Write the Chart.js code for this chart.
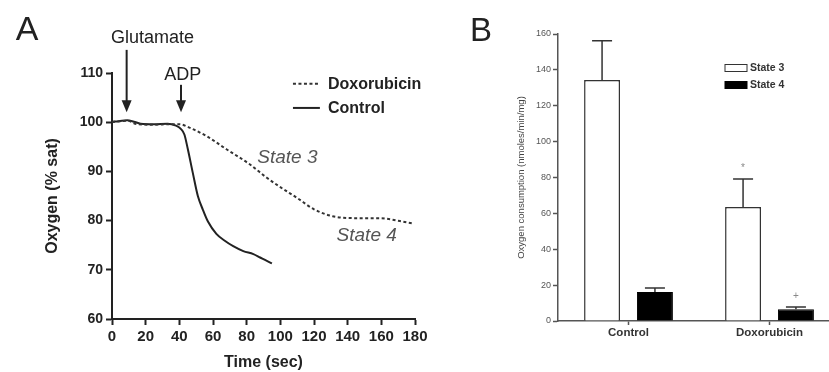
<!DOCTYPE html>
<html>
<head>
<meta charset="utf-8">
<script src="https://cdn.jsdelivr.net/npm/chart.js@4.4.0/dist/chart.umd.min.js"></script>
<style>
  html, body { margin: 0; padding: 0; background: #fff; overflow: hidden; }
  #wrap { position: relative; width: 829px; height: 372px; overflow: hidden; }
  #chartA { position: absolute; left: 0; top: 0; }
  #chartB { position: absolute; left: 460px; top: 0; }
</style>
</head>
<body>
<div id="wrap">
  <canvas id="chartA" width="460" height="372"></canvas>
  <canvas id="chartB" width="400" height="372"></canvas>
</div>
<script>
"use strict";

// Panel A: oxygen trace (% sat) against time (sec)
const controlTime = [0, 4, 9, 13, 17, 25, 33, 38, 41, 43, 45, 48, 51, 54, 57, 62, 67, 72, 78, 84, 88, 92, 95];
const controlO2 = [100.1, 100.2, 100.4, 100.1, 99.7, 99.6, 99.7, 99.3, 98.6, 97.5, 94.6, 89.7, 85, 82.2, 79.8, 77.3, 75.9, 74.8, 73.8, 73.2, 72.5, 71.8, 71.3];
const doxTime = [0, 9, 15, 25, 35, 40, 46, 56, 68, 82, 92, 100, 110, 120, 131, 145, 159, 171, 179];
const doxO2 = [100, 100.3, 99.6, 99.5, 99.6, 99.6, 98.9, 97.2, 94.5, 91.4, 88.7, 86.8, 84.6, 82.3, 80.9, 80.5, 80.5, 79.9, 79.4];

// Panel B: oxygen consumption (nmoles/min/mg)
const groups = ["Control", "Doxorubicin"];
const state3 = [134.3, 63.6];
const state3Err = [22, 15.5];
const state4 = [16.2, 6.5];
const state4Err = [2.2, 1.3];
const state3Marks = ["", "*"];
const state4Marks = ["", "+"];

const FONT = "'Liberation Sans', Arial, sans-serif";
Chart.defaults.font.family = FONT;

function toPoints(xs, ys) {
    return xs.map((t, i) => ({ x: t, y: ys[i] }));
}

function drawArrow(ctx, px, yFrom, yTo) {
    ctx.beginPath();
    ctx.moveTo(px, yFrom);
    ctx.lineTo(px, yTo - 10);
    ctx.stroke();
    ctx.beginPath();
    ctx.moveTo(px - 5, yTo - 12);
    ctx.lineTo(px + 5, yTo - 12);
    ctx.lineTo(px, yTo);
    ctx.closePath();
    ctx.fill();
}

// labels, arrows and legend for panel A
const notesA = {
    id: "notesA",
    afterDraw(chart) {
        const { ctx, scales: { x, y } } = chart;
        ctx.save();
        ctx.fillStyle = "#222";
        ctx.strokeStyle = "#222";
        ctx.lineWidth = 2;
        ctx.textBaseline = "middle";
        ctx.textAlign = "center";

        ctx.font = "34px " + FONT;
        ctx.fillText("A", 27, 31);

        ctx.font = "18px " + FONT;
        ctx.fillText("Glutamate", x.getPixelForValue(24), y.getPixelForValue(117.2));
        ctx.fillText("ADP", x.getPixelForValue(42), y.getPixelForValue(109.6));
        drawArrow(ctx, x.getPixelForValue(8.7), y.getPixelForValue(114.7), y.getPixelForValue(102));
        drawArrow(ctx, x.getPixelForValue(41), y.getPixelForValue(107.6), y.getPixelForValue(102));

        ctx.fillStyle = "#555";
        ctx.font = "italic 19px " + FONT;
        ctx.fillText("State 3", x.getPixelForValue(104.2), y.getPixelForValue(92.8));
        ctx.fillText("State 4", x.getPixelForValue(151.3), y.getPixelForValue(76.9));

        // legend
        const lx0 = x.getPixelForValue(107.5), lx1 = x.getPixelForValue(123.5);
        const rows = [y.getPixelForValue(107.8), y.getPixelForValue(102.9)];
        chart.data.datasets.forEach((ds, i) => {
            ctx.strokeStyle = ds.borderColor;
            ctx.setLineDash(ds.borderDash || []);
            ctx.beginPath();
            ctx.moveTo(lx0, rows[i]);
            ctx.lineTo(lx1, rows[i]);
            ctx.stroke();
        });
        ctx.setLineDash([]);
        ctx.fillStyle = "#222";
        ctx.textAlign = "left";
        ctx.font = "bold 16px " + FONT;
        chart.data.datasets.forEach((ds, i) => {
            ctx.fillText(ds.label, x.getPixelForValue(128.3), rows[i] + 1);
        });
        ctx.restore();
    }
};

// error bars, significance marks and legend for panel B
const notesB = {
    id: "notesB",
    afterDatasetsDraw(chart) {
        const { ctx, scales: { y } } = chart;
        ctx.save();
        ctx.strokeStyle = "#333";
        ctx.lineWidth = 1.5;
        ctx.fillStyle = "#888";
        ctx.textAlign = "center";
        ctx.textBaseline = "middle";
        ctx.font = "10px " + FONT;
        chart.data.datasets.forEach((ds, i) => {
            chart.getDatasetMeta(i).data.forEach((bar, j) => {
                const top = y.getPixelForValue(ds.data[j] + ds.errors[j]);
                ctx.beginPath();
                ctx.moveTo(bar.x, bar.y);
                ctx.lineTo(bar.x, top);
                ctx.moveTo(bar.x - 10, top);
                ctx.lineTo(bar.x + 10, top);
                ctx.stroke();
                if (ds.marks[j]) {
                    ctx.fillText(ds.marks[j], bar.x, top - 11);
                }
            });
        });
        ctx.restore();
    },
    afterDraw(chart) {
        const { ctx, chartArea } = chart;
        ctx.save();
        ctx.fillStyle = "#222";
        ctx.textBaseline = "middle";
        ctx.textAlign = "center";
        ctx.font = "33px " + FONT;
        ctx.fillText("B", 21, 32);

        const bx = chartArea.left + 167;
        ctx.font = "bold 10.5px " + FONT;
        ctx.textAlign = "left";
        chart.data.datasets.forEach((ds, i) => {
            const by = 68 + i * 17;
            ctx.fillStyle = ds.backgroundColor;
            ctx.fillRect(bx, by - 3.5, 22, 7);
            ctx.strokeStyle = ds.borderColor;
            ctx.lineWidth = 1;
            ctx.strokeRect(bx, by - 3.5, 22, 7);
            ctx.fillStyle = "#333";
            ctx.fillText(ds.label, bx + 25, by);
        });
        ctx.restore();
    }
};

new Chart(document.getElementById("chartA"), {
    type: "line",
    data: {
        datasets: [
            {
                label: "Doxorubicin",
                data: toPoints(doxTime, doxO2),
                borderColor: "#333",
                borderWidth: 2,
                borderDash: [3, 2.5],
                pointRadius: 0,
                cubicInterpolationMode: "monotone",
                fill: false
            },
            {
                label: "Control",
                data: toPoints(controlTime, controlO2),
                borderColor: "#222",
                borderWidth: 2,
                pointRadius: 0,
                cubicInterpolationMode: "monotone",
                fill: false
            }
        ]
    },
    options: {
        responsive: false,
        animation: false,
        layout: { padding: { top: 73, right: 45 } },
        plugins: { legend: { display: false }, tooltip: { enabled: false } },
        scales: {
            x: {
                type: "linear",
                min: 0,
                max: 180,
                ticks: { stepSize: 20, color: "#222", font: { size: 15, weight: "bold" }, padding: 3, maxRotation: 0 },
                grid: { drawOnChartArea: false, tickLength: 6, tickColor: "#222", tickWidth: 2 },
                border: { color: "#222", width: 2 },
                title: { display: true, text: "Time (sec)", color: "#222", font: { size: 16, weight: "bold" }, padding: 0 },
                afterFit: (s) => { s.height = 53; }
            },
            y: {
                min: 60,
                max: 110,
                ticks: { stepSize: 10, color: "#222", font: { size: 14, weight: "bold" }, padding: 3 },
                grid: { drawOnChartArea: false, tickLength: 6, tickColor: "#222", tickWidth: 2 },
                border: { color: "#222", width: 2 },
                title: { display: true, text: "Oxygen (% sat)", color: "#222", font: { size: 16, weight: "bold" }, padding: { top: 43, bottom: 0 } },
                afterFit: (s) => { s.width = 112; }
            }
        }
    },
    plugins: [notesA]
});

new Chart(document.getElementById("chartB"), {
    type: "bar",
    data: {
        labels: groups,
        datasets: [
            {
                label: "State 3",
                data: state3,
                errors: state3Err,
                marks: state3Marks,
                backgroundColor: "#ffffff",
                borderColor: "#333",
                borderWidth: 1.5
            },
            {
                label: "State 4",
                data: state4,
                errors: state4Err,
                marks: state4Marks,
                backgroundColor: "#000000",
                borderColor: "#000000",
                borderWidth: 1
            }
        ]
    },
    options: {
        responsive: false,
        animation: false,
        categoryPercentage: 0.75,
        barPercentage: 0.68,
        layout: { padding: { top: 34, right: 20 } },
        plugins: { legend: { display: false }, tooltip: { enabled: false } },
        scales: {
            x: {
                ticks: { color: "#333", font: { size: 11.5, weight: "bold" }, padding: 1 },
                grid: { offset: false, drawOnChartArea: false, tickLength: 4, tickColor: "#555", tickWidth: 1.5 },
                border: { color: "#555", width: 1.5 },
                afterFit: (s) => { s.height = 51; }
            },
            y: {
                min: 0,
                max: 160,
                ticks: { stepSize: 20, color: "#555", font: { size: 9 }, padding: 2 },
                grid: { drawOnChartArea: false, tickLength: 5, tickColor: "#555", tickWidth: 1.5 },
                border: { color: "#555", width: 1.5 },
                title: { display: true, text: "Oxygen consumption (nmoles/min/mg)", color: "#444", font: { size: 9.5 }, padding: { top: 56, bottom: 0 } },
                afterFit: (s) => { s.width = 98; }
            }
        }
    },
    plugins: [notesB]
});
</script>
</body>
</html>
